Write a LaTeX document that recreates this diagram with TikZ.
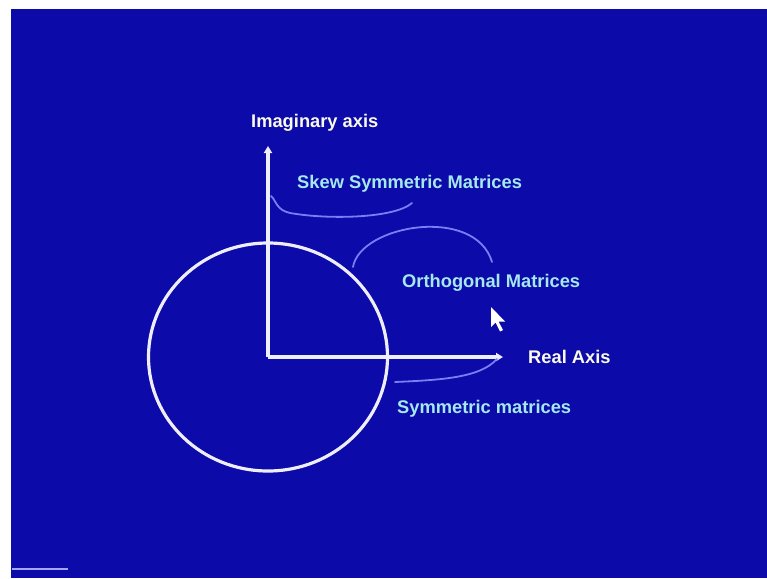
\documentclass[tikz,border=0pt]{standalone}
\usepackage{fontspec}
\setmainfont{Liberation Sans}
\usetikzlibrary{arrows.meta}
\definecolor{bgblue}{RGB}{12,10,168}
\definecolor{axiswhite}{RGB}{238,238,255}
\definecolor{curveblue}{RGB}{125,125,248}
\definecolor{labelcyan}{RGB}{165,232,240}
\definecolor{labelwhite}{RGB}{250,250,235}
\begin{document}
\begin{tikzpicture}[x=1pt,y=-1pt,
  axisline/.style={draw=axiswhite,line width=3.2pt,-{Triangle[length=7pt,width=8pt]}},
  ringline/.style={draw=axiswhite,line width=3.2pt},
  curveline/.style={draw=curveblue,line width=1.8pt,line cap=round},
  lab/.style={font=\bfseries\fontsize{18.3}{20}\selectfont,inner sep=0pt,anchor=base west},
  whitelab/.style={lab,text=labelwhite},
  cyanlab/.style={lab,text=labelcyan}]
\useasboundingbox (0,0) rectangle (767,578);
\fill[white] (0,0) rectangle (767,578);
\fill[bgblue] (11,9) rectangle (767,578);
% bottom-left artefact line
\draw[draw=curveblue!70!white,line width=1.2pt] (12,569) -- (68,569);
% circle
\coordinate (O) at (268,357);
\draw[ringline] (O) ellipse [x radius=119.5, y radius=114];
% axes
\coordinate (ytop) at (268,146);
\coordinate (xend) at (503,357);
\draw[axisline] (O) -- (ytop);
\draw[axisline] (O) -- (xend);
% labels
\node[whitelab] (imag) at (251,127) {Imaginary axis};
\node[cyanlab] (skew) at (297,188) {Skew Symmetric Matrices};
\node[cyanlab] (orth) at (402,287) {Orthogonal Matrices};
\node[whitelab] (real) at (528,363) {Real Axis};
\node[cyanlab] (sym) at (397,413) {Symmetric matrices};
% annotation curves
\coordinate (s1) at (271,196);
\coordinate (s2) at (412,203);
\draw[curveline] (s1) .. controls (276,200) and (276,210) .. (290,213)
  .. controls (330,220) and (395,218) .. (s2);
\coordinate (o1) at (353,267);
\coordinate (o2) at (492,262);
\draw[curveline] (o1) .. controls (360,225) and (475,205) .. (o2);
\coordinate (m1) at (395,382);
\coordinate (m2) at (497,359);
\draw[curveline] (m1) .. controls (440,380) and (480,378) .. (m2);
% mouse cursor
\coordinate (cur) at (491,307);
\fill[white] (cur) -- ++(0,20) -- ++(4.5,-4.5) -- ++(4.5,9) -- ++(3,-1.5) -- ++(-4.5,-8.5) -- ++(6.5,0) -- cycle;
\end{tikzpicture}
\end{document}
